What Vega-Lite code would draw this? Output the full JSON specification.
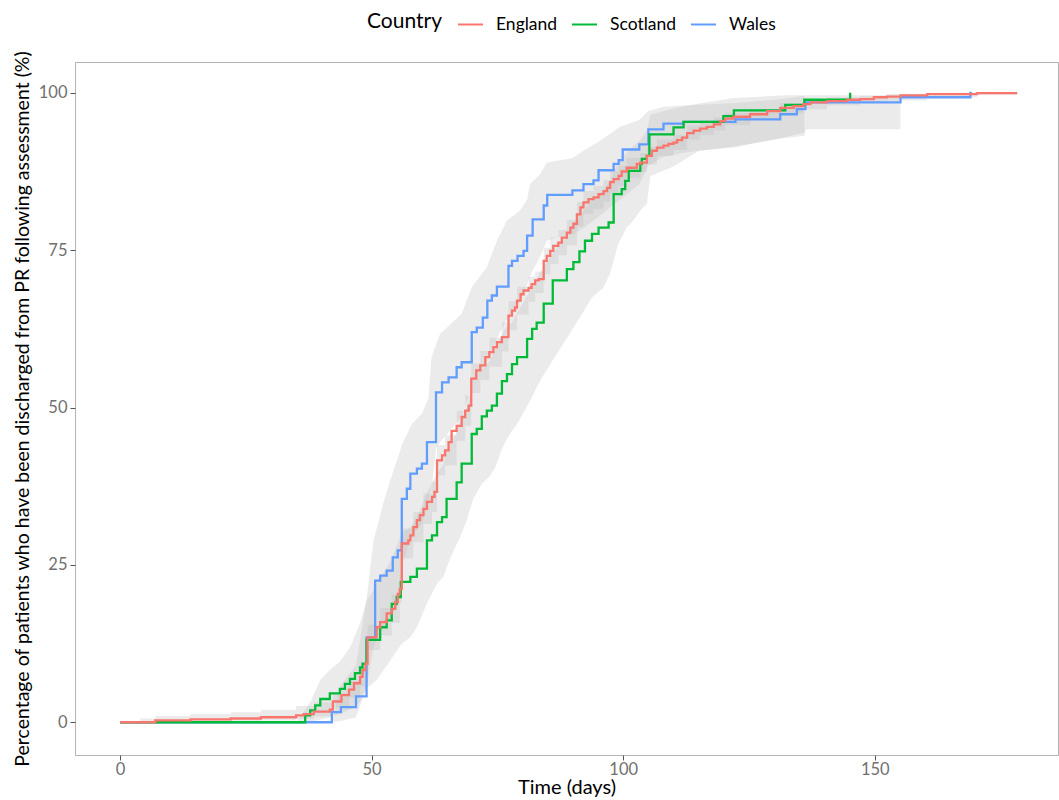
{
  "$schema": "https://vega.github.io/schema/vega-lite/v6.json",
  "width": 983,
  "height": 693,
  "autosize": {"type": "none"},
  "padding": {"left": 75, "top": 62, "right": 1, "bottom": 45},
  "background": "white",
  "config": {
    "font": "Lato",
    "view": {"stroke": "#b3b3b3", "strokeWidth": 1},
    "axis": {"grid": false, "domain": false, "tickColor": "#555555", "tickSize": 5, "labelColor": "#707070", "labelFontSize": 16.5, "titleFontWeight": "normal", "titleColor": "#000000"}
  },
  "datasets": {
    "curves": [
      {"country": "Wales", "t": 0, "p": 0}, {"country": "Wales", "t": 42.1, "p": 1.6}, {"country": "Wales", "t": 43.9, "p": 2.4}, {"country": "Wales", "t": 46.9, "p": 4.1}, {"country": "Wales", "t": 49.0, "p": 13.5}, {"country": "Wales", "t": 50.7, "p": 22.5}, {"country": "Wales", "t": 51.7, "p": 23.3}, {"country": "Wales", "t": 53.0, "p": 24.1}, {"country": "Wales", "t": 54.2, "p": 26.2}, {"country": "Wales", "t": 55.2, "p": 27.3}, {"country": "Wales", "t": 56.0, "p": 35.5}, {"country": "Wales", "t": 57.0, "p": 37.1}, {"country": "Wales", "t": 57.7, "p": 39.5}, {"country": "Wales", "t": 59.0, "p": 40.3}, {"country": "Wales", "t": 60.0, "p": 41.1}, {"country": "Wales", "t": 61.0, "p": 44.5}, {"country": "Wales", "t": 62.8, "p": 52.4}, {"country": "Wales", "t": 64.0, "p": 54.0}, {"country": "Wales", "t": 65.3, "p": 54.8}, {"country": "Wales", "t": 66.9, "p": 56.4}, {"country": "Wales", "t": 67.9, "p": 57.2}, {"country": "Wales", "t": 69.9, "p": 62.0}, {"country": "Wales", "t": 70.9, "p": 62.7}, {"country": "Wales", "t": 72.1, "p": 64.3}, {"country": "Wales", "t": 73.0, "p": 67.0}, {"country": "Wales", "t": 73.9, "p": 67.8}, {"country": "Wales", "t": 74.9, "p": 69.2}, {"country": "Wales", "t": 77.2, "p": 72.5}, {"country": "Wales", "t": 77.9, "p": 73.3}, {"country": "Wales", "t": 79.0, "p": 74.1}, {"country": "Wales", "t": 80.2, "p": 74.9}, {"country": "Wales", "t": 80.9, "p": 77.3}, {"country": "Wales", "t": 82.0, "p": 79.9}, {"country": "Wales", "t": 84.2, "p": 82.1}, {"country": "Wales", "t": 84.9, "p": 83.8}, {"country": "Wales", "t": 89.9, "p": 84.5}, {"country": "Wales", "t": 92.1, "p": 85.5}, {"country": "Wales", "t": 94.1, "p": 86.1}, {"country": "Wales", "t": 95.1, "p": 87.7}, {"country": "Wales", "t": 98.1, "p": 88.7}, {"country": "Wales", "t": 99.1, "p": 89.3}, {"country": "Wales", "t": 99.9, "p": 91.0}, {"country": "Wales", "t": 103.2, "p": 91.8}, {"country": "Wales", "t": 105.0, "p": 94.2}, {"country": "Wales", "t": 108.0, "p": 95.1}, {"country": "Wales", "t": 112.0, "p": 95.4}, {"country": "Wales", "t": 122.3, "p": 95.8}, {"country": "Wales", "t": 131.2, "p": 96.6}, {"country": "Wales", "t": 134.5, "p": 97.4}, {"country": "Wales", "t": 136.2, "p": 98.5}, {"country": "Wales", "t": 155.1, "p": 99.3}, {"country": "Wales", "t": 169.0, "p": 100}, {"country": "Wales", "t": 169.3, "p": 100},

      {"country": "Scotland", "t": 0, "p": 0}, {"country": "Scotland", "t": 36.8, "p": 1.1}, {"country": "Scotland", "t": 37.8, "p": 1.9}, {"country": "Scotland", "t": 38.8, "p": 2.7}, {"country": "Scotland", "t": 39.8, "p": 3.7}, {"country": "Scotland", "t": 41.7, "p": 4.6}, {"country": "Scotland", "t": 43.7, "p": 5.3}, {"country": "Scotland", "t": 44.7, "p": 6.1}, {"country": "Scotland", "t": 45.7, "p": 6.9}, {"country": "Scotland", "t": 46.7, "p": 7.8}, {"country": "Scotland", "t": 47.7, "p": 8.7}, {"country": "Scotland", "t": 48.2, "p": 9.3}, {"country": "Scotland", "t": 49.0, "p": 13.1}, {"country": "Scotland", "t": 51.7, "p": 15.1}, {"country": "Scotland", "t": 53.0, "p": 16.2}, {"country": "Scotland", "t": 54.0, "p": 18.8}, {"country": "Scotland", "t": 55.0, "p": 19.9}, {"country": "Scotland", "t": 55.8, "p": 22.3}, {"country": "Scotland", "t": 57.7, "p": 23.1}, {"country": "Scotland", "t": 59.0, "p": 24.4}, {"country": "Scotland", "t": 61.0, "p": 28.9}, {"country": "Scotland", "t": 62.0, "p": 29.7}, {"country": "Scotland", "t": 63.0, "p": 31.8}, {"country": "Scotland", "t": 64.0, "p": 32.6}, {"country": "Scotland", "t": 64.9, "p": 35.5}, {"country": "Scotland", "t": 66.9, "p": 38.1}, {"country": "Scotland", "t": 67.9, "p": 41.1}, {"country": "Scotland", "t": 69.9, "p": 45.8}, {"country": "Scotland", "t": 70.9, "p": 46.6}, {"country": "Scotland", "t": 71.9, "p": 48.6}, {"country": "Scotland", "t": 72.9, "p": 49.5}, {"country": "Scotland", "t": 73.9, "p": 50.3}, {"country": "Scotland", "t": 74.9, "p": 52.2}, {"country": "Scotland", "t": 75.9, "p": 54.2}, {"country": "Scotland", "t": 76.9, "p": 55.3}, {"country": "Scotland", "t": 77.9, "p": 56.9}, {"country": "Scotland", "t": 78.9, "p": 58.0}, {"country": "Scotland", "t": 80.9, "p": 60.9}, {"country": "Scotland", "t": 81.9, "p": 62.5}, {"country": "Scotland", "t": 82.8, "p": 63.5}, {"country": "Scotland", "t": 84.2, "p": 66.5}, {"country": "Scotland", "t": 86.0, "p": 70.2}, {"country": "Scotland", "t": 88.8, "p": 72.0}, {"country": "Scotland", "t": 90.1, "p": 73.1}, {"country": "Scotland", "t": 91.3, "p": 74.8}, {"country": "Scotland", "t": 92.4, "p": 76.5}, {"country": "Scotland", "t": 93.8, "p": 77.6}, {"country": "Scotland", "t": 95.1, "p": 78.6}, {"country": "Scotland", "t": 97.1, "p": 79.4}, {"country": "Scotland", "t": 98.1, "p": 83.9}, {"country": "Scotland", "t": 99.7, "p": 84.7}, {"country": "Scotland", "t": 100.4, "p": 86.0}, {"country": "Scotland", "t": 101.1, "p": 87.6}, {"country": "Scotland", "t": 103.4, "p": 88.7}, {"country": "Scotland", "t": 103.7, "p": 89.5}, {"country": "Scotland", "t": 104.7, "p": 90.0}, {"country": "Scotland", "t": 105.2, "p": 93.4}, {"country": "Scotland", "t": 110.0, "p": 94.5}, {"country": "Scotland", "t": 112.0, "p": 95.4}, {"country": "Scotland", "t": 119.9, "p": 96.3}, {"country": "Scotland", "t": 122.0, "p": 97.2}, {"country": "Scotland", "t": 132.2, "p": 98.1}, {"country": "Scotland", "t": 136.0, "p": 98.9}, {"country": "Scotland", "t": 145.1, "p": 100},

      {"country": "England", "t": 0, "p": 0}, {"country": "England", "t": 7, "p": 0.3}, {"country": "England", "t": 14, "p": 0.45}, {"country": "England", "t": 22, "p": 0.6}, {"country": "England", "t": 28, "p": 0.8}, {"country": "England", "t": 35, "p": 1.1}, {"country": "England", "t": 36.5, "p": 1.3}, {"country": "England", "t": 38.5, "p": 1.7}, {"country": "England", "t": 41.7, "p": 2.0}, {"country": "England", "t": 42.3, "p": 3.3}, {"country": "England", "t": 44.0, "p": 4.3}, {"country": "England", "t": 45.5, "p": 5.2}, {"country": "England", "t": 46.5, "p": 6.2}, {"country": "England", "t": 47.7, "p": 7.2}, {"country": "England", "t": 48.2, "p": 8.3}, {"country": "England", "t": 48.8, "p": 9.3}, {"country": "England", "t": 49.2, "p": 13.5}, {"country": "England", "t": 51.0, "p": 15.1}, {"country": "England", "t": 51.7, "p": 15.9}, {"country": "England", "t": 53.0, "p": 17.3}, {"country": "England", "t": 54.0, "p": 18.0}, {"country": "England", "t": 54.7, "p": 19.1}, {"country": "England", "t": 55.2, "p": 20.4}, {"country": "England", "t": 55.6, "p": 21.2}, {"country": "England", "t": 56.0, "p": 28.4}, {"country": "England", "t": 57.3, "p": 28.9}, {"country": "England", "t": 57.7, "p": 29.7}, {"country": "England", "t": 58.3, "p": 31.0}, {"country": "England", "t": 59.0, "p": 32.1}, {"country": "England", "t": 59.6, "p": 32.9}, {"country": "England", "t": 60.3, "p": 33.9}, {"country": "England", "t": 61.0, "p": 35.0}, {"country": "England", "t": 62.0, "p": 35.8}, {"country": "England", "t": 62.5, "p": 36.6}, {"country": "England", "t": 63.0, "p": 41.6}, {"country": "England", "t": 64.0, "p": 42.4}, {"country": "England", "t": 64.6, "p": 43.2}, {"country": "England", "t": 65.3, "p": 44.5}, {"country": "England", "t": 65.9, "p": 46.3}, {"country": "England", "t": 66.9, "p": 47.1}, {"country": "England", "t": 67.9, "p": 48.5}, {"country": "England", "t": 68.6, "p": 49.5}, {"country": "England", "t": 69.3, "p": 50.3}, {"country": "England", "t": 69.8, "p": 54.6}, {"country": "England", "t": 70.8, "p": 55.9}, {"country": "England", "t": 71.6, "p": 56.7}, {"country": "England", "t": 72.6, "p": 58.0}, {"country": "England", "t": 73.4, "p": 58.8}, {"country": "England", "t": 74.2, "p": 59.6}, {"country": "England", "t": 74.9, "p": 60.4}, {"country": "England", "t": 75.9, "p": 61.2}, {"country": "England", "t": 77.2, "p": 64.6}, {"country": "England", "t": 77.9, "p": 65.4}, {"country": "England", "t": 78.5, "p": 65.9}, {"country": "England", "t": 78.9, "p": 67.0}, {"country": "England", "t": 79.6, "p": 68.0}, {"country": "England", "t": 80.2, "p": 68.6}, {"country": "England", "t": 81.2, "p": 69.0}, {"country": "England", "t": 81.8, "p": 69.6}, {"country": "England", "t": 82.5, "p": 70.2}, {"country": "England", "t": 83.2, "p": 70.4}, {"country": "England", "t": 84.2, "p": 73.3}, {"country": "England", "t": 84.8, "p": 74.1}, {"country": "England", "t": 85.5, "p": 74.9}, {"country": "England", "t": 86.1, "p": 75.7}, {"country": "England", "t": 87.1, "p": 76.2}, {"country": "England", "t": 87.8, "p": 77.0}, {"country": "England", "t": 88.8, "p": 77.8}, {"country": "England", "t": 89.5, "p": 78.6}, {"country": "England", "t": 90.1, "p": 79.2}, {"country": "England", "t": 90.8, "p": 80.7}, {"country": "England", "t": 91.5, "p": 81.8}, {"country": "England", "t": 92.1, "p": 82.6}, {"country": "England", "t": 93.1, "p": 83.1}, {"country": "England", "t": 94.1, "p": 83.4}, {"country": "England", "t": 95.1, "p": 83.9}, {"country": "England", "t": 96.1, "p": 84.4}, {"country": "England", "t": 96.8, "p": 84.9}, {"country": "England", "t": 97.4, "p": 85.8}, {"country": "England", "t": 98.1, "p": 86.3}, {"country": "England", "t": 99.1, "p": 86.8}, {"country": "England", "t": 99.7, "p": 87.5}, {"country": "England", "t": 100.7, "p": 88.1}, {"country": "England", "t": 102.7, "p": 88.7}, {"country": "England", "t": 103.4, "p": 88.9}, {"country": "England", "t": 104.7, "p": 90.0}, {"country": "England", "t": 105.7, "p": 90.8}, {"country": "England", "t": 106.7, "p": 91.3}, {"country": "England", "t": 108.0, "p": 91.6}, {"country": "England", "t": 109.0, "p": 91.9}, {"country": "England", "t": 110.0, "p": 92.1}, {"country": "England", "t": 110.7, "p": 92.5}, {"country": "England", "t": 111.7, "p": 92.9}, {"country": "England", "t": 112.7, "p": 93.6}, {"country": "England", "t": 114.0, "p": 94.0}, {"country": "England", "t": 115.3, "p": 94.3}, {"country": "England", "t": 116.6, "p": 94.6}, {"country": "England", "t": 118.0, "p": 95.0}, {"country": "England", "t": 119.3, "p": 95.5}, {"country": "England", "t": 120.3, "p": 95.9}, {"country": "England", "t": 121.9, "p": 96.2}, {"country": "England", "t": 125.2, "p": 96.6}, {"country": "England", "t": 128.6, "p": 97.1}, {"country": "England", "t": 131.2, "p": 97.6}, {"country": "England", "t": 133.9, "p": 97.9}, {"country": "England", "t": 135.8, "p": 98.2}, {"country": "England", "t": 137.2, "p": 98.5}, {"country": "England", "t": 140.5, "p": 98.7}, {"country": "England", "t": 144.5, "p": 98.9}, {"country": "England", "t": 147.1, "p": 99.0}, {"country": "England", "t": 149.8, "p": 99.3}, {"country": "England", "t": 152.4, "p": 99.4}, {"country": "England", "t": 155.1, "p": 99.6}, {"country": "England", "t": 160.4, "p": 99.8}, {"country": "England", "t": 170.3, "p": 99.95}, {"country": "England", "t": 178.3, "p": 99.95}
    ],
    "bands": [
      {"country": "Wales", "t": 0, "lo": 0, "hi": 0}, {"country": "Wales", "t": 42.1, "lo": 0, "hi": 0}, {"country": "Wales", "t": 43.9, "lo": 0.2, "hi": 6.0}, {"country": "Wales", "t": 46.9, "lo": 0.8, "hi": 9.0}, {"country": "Wales", "t": 49.0, "lo": 5.5, "hi": 19.5}, {"country": "Wales", "t": 50.4, "lo": 12.0, "hi": 28.9}, {"country": "Wales", "t": 52.3, "lo": 15.0, "hi": 34.7}, {"country": "Wales", "t": 53.7, "lo": 16.5, "hi": 38.4}, {"country": "Wales", "t": 55.2, "lo": 18.5, "hi": 42.0}, {"country": "Wales", "t": 56.0, "lo": 25.0, "hi": 44.0}, {"country": "Wales", "t": 58.0, "lo": 29.5, "hi": 47.4}, {"country": "Wales", "t": 60.0, "lo": 31.5, "hi": 49.0}, {"country": "Wales", "t": 61.3, "lo": 35.0, "hi": 51.5}, {"country": "Wales", "t": 61.9, "lo": 37.0, "hi": 58.0}, {"country": "Wales", "t": 62.8, "lo": 43.5, "hi": 60.0}, {"country": "Wales", "t": 63.6, "lo": 44.5, "hi": 61.7}, {"country": "Wales", "t": 67.9, "lo": 48.5, "hi": 64.9}, {"country": "Wales", "t": 69.9, "lo": 53.0, "hi": 69.1}, {"country": "Wales", "t": 72.9, "lo": 57.5, "hi": 72.3}, {"country": "Wales", "t": 74.9, "lo": 61.0, "hi": 76.5}, {"country": "Wales", "t": 76.9, "lo": 64.0, "hi": 79.7}, {"country": "Wales", "t": 79.5, "lo": 67.0, "hi": 81.3}, {"country": "Wales", "t": 80.9, "lo": 69.5, "hi": 83.0}, {"country": "Wales", "t": 81.5, "lo": 71.0, "hi": 85.5}, {"country": "Wales", "t": 83.5, "lo": 74.0, "hi": 87.1}, {"country": "Wales", "t": 84.8, "lo": 76.5, "hi": 88.9}, {"country": "Wales", "t": 86.8, "lo": 77.0, "hi": 89.2}, {"country": "Wales", "t": 89.9, "lo": 77.5, "hi": 89.6}, {"country": "Wales", "t": 92.1, "lo": 78.5, "hi": 90.8}, {"country": "Wales", "t": 95.4, "lo": 80.5, "hi": 92.4}, {"country": "Wales", "t": 99.4, "lo": 83.0, "hi": 94.6}, {"country": "Wales", "t": 103.2, "lo": 85.5, "hi": 95.7}, {"country": "Wales", "t": 105.0, "lo": 88.5, "hi": 97.1}, {"country": "Wales", "t": 108.0, "lo": 89.8, "hi": 97.8}, {"country": "Wales", "t": 112.0, "lo": 90.5, "hi": 98.0}, {"country": "Wales", "t": 122.3, "lo": 91.5, "hi": 98.4}, {"country": "Wales", "t": 131.2, "lo": 92.7, "hi": 99.0}, {"country": "Wales", "t": 136.0, "lo": 93.2, "hi": 99.5}, {"country": "Wales", "t": 136.3, "lo": 94.2, "hi": 99.6}, {"country": "Wales", "t": 155.1, "lo": 94.2, "hi": 99.6},

      {"country": "Scotland", "t": 0, "lo": 0, "hi": 0}, {"country": "Scotland", "t": 35.0, "lo": 0, "hi": 0}, {"country": "Scotland", "t": 37.8, "lo": 0.1, "hi": 3.2}, {"country": "Scotland", "t": 39.8, "lo": 0.4, "hi": 6.7}, {"country": "Scotland", "t": 41.7, "lo": 0.8, "hi": 8.3}, {"country": "Scotland", "t": 43.7, "lo": 1.3, "hi": 9.6}, {"country": "Scotland", "t": 45.7, "lo": 2.0, "hi": 11.9}, {"country": "Scotland", "t": 47.7, "lo": 3.2, "hi": 15.7}, {"country": "Scotland", "t": 49.0, "lo": 5.5, "hi": 19.4}, {"country": "Scotland", "t": 50.0, "lo": 6.0, "hi": 20.5}, {"country": "Scotland", "t": 51.0, "lo": 6.7, "hi": 22.0}, {"country": "Scotland", "t": 53.7, "lo": 9.8, "hi": 25.5}, {"country": "Scotland", "t": 56.0, "lo": 12.5, "hi": 30.0}, {"country": "Scotland", "t": 57.7, "lo": 13.5, "hi": 31.0}, {"country": "Scotland", "t": 59.0, "lo": 15.1, "hi": 32.5}, {"country": "Scotland", "t": 61.0, "lo": 18.9, "hi": 36.5}, {"country": "Scotland", "t": 63.0, "lo": 22.0, "hi": 39.5}, {"country": "Scotland", "t": 64.3, "lo": 23.1, "hi": 41.0}, {"country": "Scotland", "t": 64.9, "lo": 24.6, "hi": 43.0}, {"country": "Scotland", "t": 66.3, "lo": 27.3, "hi": 45.0}, {"country": "Scotland", "t": 67.6, "lo": 29.4, "hi": 47.5}, {"country": "Scotland", "t": 68.9, "lo": 32.1, "hi": 50.0}, {"country": "Scotland", "t": 70.2, "lo": 35.5, "hi": 53.5}, {"country": "Scotland", "t": 71.9, "lo": 37.9, "hi": 56.0}, {"country": "Scotland", "t": 73.6, "lo": 39.2, "hi": 57.5}, {"country": "Scotland", "t": 74.6, "lo": 40.5, "hi": 59.5}, {"country": "Scotland", "t": 75.5, "lo": 42.6, "hi": 61.0}, {"country": "Scotland", "t": 76.5, "lo": 44.5, "hi": 62.5}, {"country": "Scotland", "t": 77.9, "lo": 46.3, "hi": 63.5}, {"country": "Scotland", "t": 78.9, "lo": 47.4, "hi": 65.0}, {"country": "Scotland", "t": 81.5, "lo": 51.1, "hi": 68.5}, {"country": "Scotland", "t": 82.8, "lo": 53.2, "hi": 70.0}, {"country": "Scotland", "t": 83.5, "lo": 54.3, "hi": 71.5}, {"country": "Scotland", "t": 86.0, "lo": 57.5, "hi": 74.5}, {"country": "Scotland", "t": 88.8, "lo": 61.0, "hi": 77.5}, {"country": "Scotland", "t": 91.5, "lo": 64.5, "hi": 80.5}, {"country": "Scotland", "t": 93.8, "lo": 67.5, "hi": 83.0}, {"country": "Scotland", "t": 96.0, "lo": 69.0, "hi": 84.5}, {"country": "Scotland", "t": 97.4, "lo": 71.3, "hi": 86.0}, {"country": "Scotland", "t": 99.0, "lo": 76.0, "hi": 89.0}, {"country": "Scotland", "t": 100.7, "lo": 78.6, "hi": 90.5}, {"country": "Scotland", "t": 102.0, "lo": 79.7, "hi": 91.5}, {"country": "Scotland", "t": 103.4, "lo": 81.3, "hi": 92.5}, {"country": "Scotland", "t": 104.7, "lo": 82.4, "hi": 94.0}, {"country": "Scotland", "t": 105.4, "lo": 86.8, "hi": 96.5}, {"country": "Scotland", "t": 110.0, "lo": 88.3, "hi": 97.5}, {"country": "Scotland", "t": 115.0, "lo": 90.8, "hi": 98.3}, {"country": "Scotland", "t": 122.0, "lo": 91.3, "hi": 99.2}, {"country": "Scotland", "t": 132.2, "lo": 93.0, "hi": 99.6}, {"country": "Scotland", "t": 136.0, "lo": 93.7, "hi": 99.6},

      {"country": "England", "t": 0, "lo": 0, "hi": 0}, {"country": "England", "t": 4, "lo": 0, "hi": 0.6}, {"country": "England", "t": 7, "lo": 0, "hi": 1.0}, {"country": "England", "t": 14, "lo": 0.05, "hi": 1.3}, {"country": "England", "t": 22, "lo": 0.15, "hi": 1.6}, {"country": "England", "t": 28, "lo": 0.3, "hi": 2.0}, {"country": "England", "t": 35, "lo": 0.5, "hi": 2.6}, {"country": "England", "t": 38.5, "lo": 0.9, "hi": 3.2}, {"country": "England", "t": 42.3, "lo": 2.3, "hi": 4.6}, {"country": "England", "t": 45.5, "lo": 3.9, "hi": 6.6}, {"country": "England", "t": 47.7, "lo": 5.7, "hi": 8.8}, {"country": "England", "t": 49.2, "lo": 11.5, "hi": 15.5}, {"country": "England", "t": 51.7, "lo": 13.8, "hi": 18.1}, {"country": "England", "t": 54.0, "lo": 15.8, "hi": 20.3}, {"country": "England", "t": 55.6, "lo": 18.9, "hi": 23.5}, {"country": "England", "t": 56.0, "lo": 26.0, "hi": 30.8}, {"country": "England", "t": 58.3, "lo": 28.6, "hi": 33.4}, {"country": "England", "t": 60.3, "lo": 31.5, "hi": 36.3}, {"country": "England", "t": 62.0, "lo": 33.4, "hi": 38.2}, {"country": "England", "t": 63.0, "lo": 39.2, "hi": 44.0}, {"country": "England", "t": 64.6, "lo": 40.8, "hi": 45.6}, {"country": "England", "t": 66.9, "lo": 44.7, "hi": 49.5}, {"country": "England", "t": 68.6, "lo": 47.1, "hi": 51.9}, {"country": "England", "t": 69.8, "lo": 52.3, "hi": 57.0}, {"country": "England", "t": 71.6, "lo": 54.4, "hi": 59.0}, {"country": "England", "t": 73.4, "lo": 56.5, "hi": 61.1}, {"country": "England", "t": 75.9, "lo": 58.9, "hi": 63.5}, {"country": "England", "t": 77.2, "lo": 62.3, "hi": 66.9}, {"country": "England", "t": 78.9, "lo": 64.8, "hi": 69.2}, {"country": "England", "t": 81.2, "lo": 66.8, "hi": 70.8}, {"country": "England", "t": 82.5, "lo": 68.2, "hi": 71.6}, {"country": "England", "t": 84.2, "lo": 71.2, "hi": 75.4}, {"country": "England", "t": 85.5, "lo": 72.8, "hi": 77.0}, {"country": "England", "t": 87.1, "lo": 74.2, "hi": 78.2}, {"country": "England", "t": 88.8, "lo": 75.8, "hi": 79.8}, {"country": "England", "t": 90.8, "lo": 78.8, "hi": 82.6}, {"country": "England", "t": 92.1, "lo": 80.8, "hi": 84.4}, {"country": "England", "t": 94.1, "lo": 81.6, "hi": 85.2}, {"country": "England", "t": 96.1, "lo": 82.7, "hi": 86.1}, {"country": "England", "t": 97.4, "lo": 84.1, "hi": 87.5}, {"country": "England", "t": 99.1, "lo": 85.2, "hi": 88.4}, {"country": "England", "t": 100.7, "lo": 86.5, "hi": 89.7}, {"country": "England", "t": 103.4, "lo": 87.4, "hi": 90.4}, {"country": "England", "t": 104.7, "lo": 88.6, "hi": 91.4}, {"country": "England", "t": 106.7, "lo": 90.0, "hi": 92.6}, {"country": "England", "t": 110.0, "lo": 90.9, "hi": 93.3}, {"country": "England", "t": 112.7, "lo": 92.6, "hi": 94.8}, {"country": "England", "t": 115.3, "lo": 93.3, "hi": 95.5}, {"country": "England", "t": 118.0, "lo": 94.0, "hi": 96.1}, {"country": "England", "t": 120.3, "lo": 94.9, "hi": 96.8}, {"country": "England", "t": 125.2, "lo": 95.7, "hi": 97.4}, {"country": "England", "t": 131.2, "lo": 96.7, "hi": 98.4}, {"country": "England", "t": 135.8, "lo": 97.4, "hi": 98.9}, {"country": "England", "t": 140.5, "lo": 98.0, "hi": 99.3}, {"country": "England", "t": 147.1, "lo": 98.4, "hi": 99.5}, {"country": "England", "t": 152.4, "lo": 98.8, "hi": 99.8}, {"country": "England", "t": 160.4, "lo": 99.3, "hi": 100}, {"country": "England", "t": 170.3, "lo": 99.7, "hi": 100}, {"country": "England", "t": 178.3, "lo": 99.7, "hi": 100}
    ]
  },
  "layer": [
    {
      "data": {"name": "bands"},
      "transform": [{"filter": "datum.country !== 'England'"}],
      "mark": {"type": "area", "interpolate": "linear", "color": "#bebebe", "opacity": 0.3},
      "encoding": {
        "x": {"field": "t", "type": "quantitative", "scale": {"domain": [-8.94, 186.4], "nice": false, "zero": false},
          "axis": {"values": [0, 50, 100, 150], "title": "Time (days)", "titleFontSize": 20, "labelPadding": 1, "titlePadding": 0}},
        "y": {"field": "lo", "type": "quantitative", "scale": {"domain": [-5.2, 104.9], "nice": false, "zero": false},
          "axis": {"values": [0, 25, 50, 75, 100], "title": "Percentage of patients who have been discharged from PR following assessment (%)", "titleFontSize": 19.5, "labelPadding": 3, "titlePadding": 6}},
        "y2": {"field": "hi"},
        "detail": {"field": "country"}
      }
    },
    {
      "data": {"name": "bands"},
      "transform": [{"filter": "datum.country === 'England'"}],
      "mark": {"type": "area", "interpolate": "step-after", "color": "#bebebe", "opacity": 0.3},
      "encoding": {
        "x": {"field": "t", "type": "quantitative"},
        "y": {"field": "lo", "type": "quantitative"},
        "y2": {"field": "hi"}
      }
    },
    {
      "data": {"name": "curves"},
      "mark": {"type": "line", "interpolate": "step-after", "strokeWidth": 2.3},
      "encoding": {
        "x": {"field": "t", "type": "quantitative"},
        "y": {"field": "p", "type": "quantitative"},
        "color": {"field": "country", "type": "nominal",
          "scale": {"domain": ["England", "Scotland", "Wales"], "range": ["#F8766D", "#00BA38", "#619CFF"]},
          "legend": {"orient": "none", "legendX": 292, "legendY": -51, "direction": "horizontal", "title": "Country", "titleOrient": "left", "titleFontSize": 21, "titleFontWeight": "normal", "titleColor": "#000000", "titlePadding": 14, "labelFontSize": 17.5, "labelColor": "#000000", "symbolType": "stroke", "symbolSize": 625, "symbolStrokeWidth": 2, "labelOffset": 12, "columnPadding": 10}
        }
      }
    }
  ]
}
